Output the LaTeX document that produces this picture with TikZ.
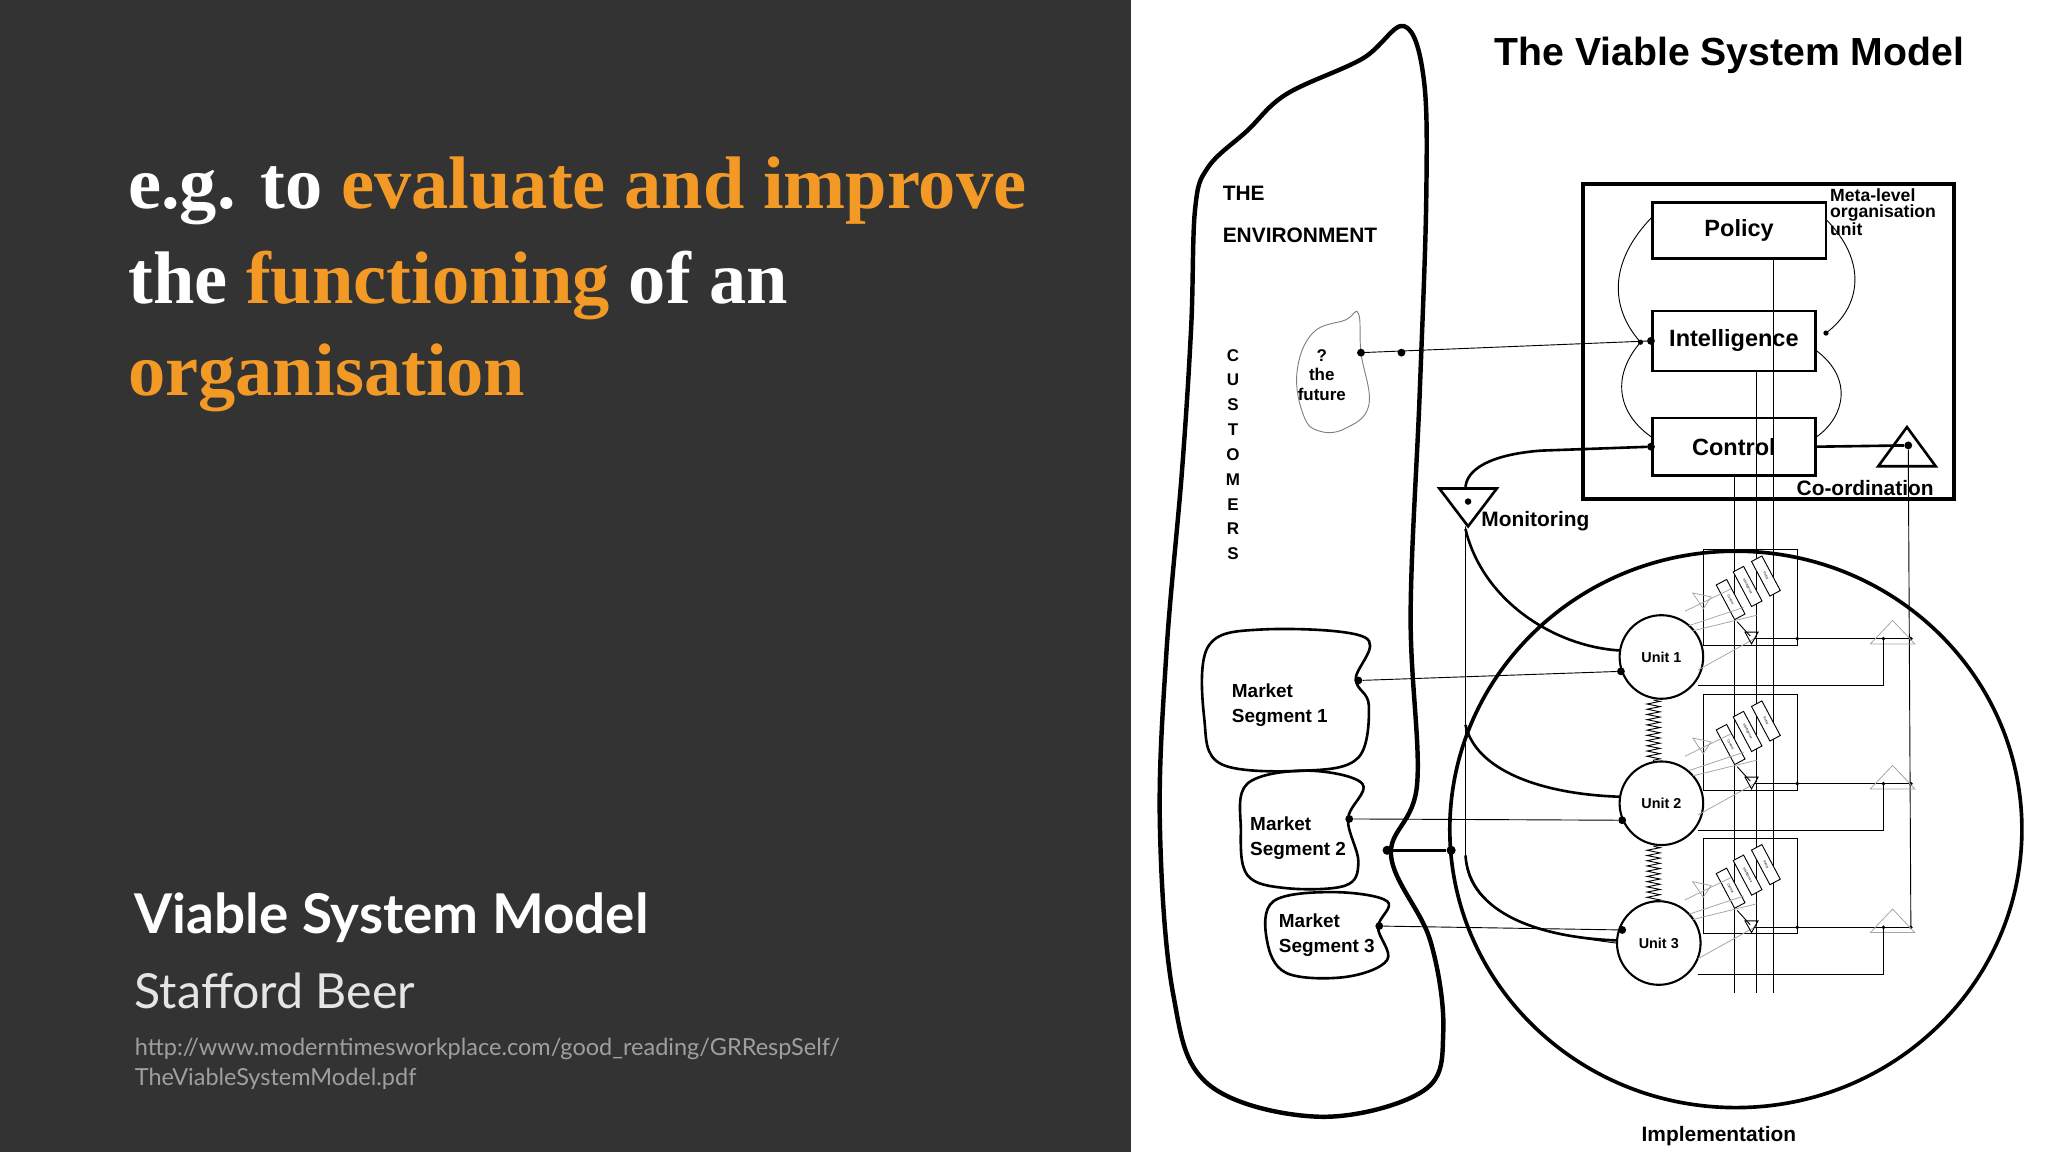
\documentclass[tikz,border=0pt]{standalone}
\usepackage{fontspec}
\setmainfont{Liberation Serif}
\newfontfamily\dsans{Liberation Sans}
\newfontfamily\lato{Lato}
\usetikzlibrary{decorations.pathmorphing}
\definecolor{panel}{HTML}{333333}
\definecolor{orng}{HTML}{F39A26}
\tikzset{
  thick1/.style={line width=3.4pt,line join=round},
  med/.style={line width=2pt},
  thin1/.style={line width=0.7pt},
  gry/.style={line width=0.6pt,gray!70},
  bx/.style={draw,line width=2pt,fill=white,font=\dsans\bfseries\fontsize{18}{20}\selectfont},
  unit/.style={draw,line width=1.6pt,circle,minimum size=64pt,inner sep=0,font=\dsans\bfseries\fontsize{11}{12}\selectfont},
  dot/.style={circle,fill=black,inner sep=0,minimum size=6pt},
  lbl/.style={font=\dsans\bfseries\fontsize{16}{18}\selectfont,inner sep=0},
  ms/.style={font=\dsans\bfseries\fontsize{14.5}{19}\selectfont,inner sep=0,align=left,anchor=west},
  mini/.style={draw,fill=white,line width=0.7pt,minimum width=30pt,minimum height=9pt,inner sep=0,font=\dsans\fontsize{2.5}{3}\selectfont},
}
\begin{document}
\begin{tikzpicture}[x=1pt,y=-1pt]
\useasboundingbox (0,0) rectangle (1568,882);
\fill[panel] (0,0) rectangle (866,882);
\fill[white] (866,0) rectangle (1568,882);
% left texts
\node[anchor=base west,inner sep=0,text=white,font=\bfseries\fontsize{57}{60}\selectfont] (t1) at (98,160) {e.g. to \textcolor{orng}{evaluate and improve}};
\node[anchor=base west,inner sep=0,text=white,font=\bfseries\fontsize{57}{60}\selectfont] (t2) at (98,232) {the \textcolor{orng}{functioning} of an};
\node[anchor=base west,inner sep=0,text=orng,font=\bfseries\fontsize{57}{60}\selectfont] (t3) at (98,303) {organisation};
\node[anchor=base west,inner sep=0,text=white,font=\lato\bfseries\fontsize{42}{46}\selectfont] (vsm) at (103,715) {Viable System Model};
\node[anchor=base west,inner sep=0,text=white!80!gray,font=\lato\fontsize{37}{40}\selectfont] (sb) at (103,772) {Stafford Beer};
\node[anchor=base west,inner sep=0,text=gray!75,font=\lato\fontsize{18}{23}\selectfont] (url) at (103,808) {http://www.moderntimesworkplace.com/good\_reading/GRRespSelf/};
\node[anchor=base west,inner sep=0,text=gray!75,font=\lato\fontsize{18}{23}\selectfont] (url2) at (103,831) {TheViableSystemModel.pdf};
% title
\node[anchor=base,inner sep=0,font=\dsans\bfseries\fontsize{30}{34}\selectfont] (title) at (1324,50) {The Viable System Model};
% environment blob
\draw[thick1] plot[smooth cycle,tension=0.6] coordinates {(1075,20) (1043,45) (985,72) (955,100) (925,128) (915,160) (912,250) (905,360) (893,500) (888,630) (898,760) (925,830) (1010,855) (1090,835) (1105,790) (1095,720) (1065,655) (1085,600) (1080,470) (1087,300) (1092,150) (1090,60)};
\node[lbl,anchor=west] (the) at (936,148) {THE};
\node[lbl,anchor=west] (env) at (936,180) {ENVIRONMENT};
\foreach \c [count=\i] in {C,U,S,T,O,M,E,R,S}
  \node[lbl,font=\dsans\bfseries\fontsize{13}{14}\selectfont] (cu\i) at (944,253+19*\i) {\c};
% the future
\draw[thin1,gray] plot[smooth cycle,tension=0.7] coordinates {(1005,255) (1030,245) (1040,240) (1042,270) (1048,310) (1030,328) (1010,330) (998,318) (993,285)};
\node[lbl,align=center,font=\dsans\bfseries\fontsize{13}{15}\selectfont] (fut) at (1012,287) {?\\the\\future};
% market segments
\draw[med] plot[smooth cycle,tension=0.6] coordinates {(925,495) (965,482) (1045,488) (1038,520) (1048,540) (1040,580) (1000,590) (935,585) (922,550)};
\node[ms] (ms1) at (943,540) {Market\\Segment 1};
\draw[med] plot[smooth cycle,tension=0.6] coordinates {(955,600) (1000,590) (1043,600) (1032,627) (1040,660) (1030,678) (985,680) (955,670) (950,635)};
\node[ms] (ms2) at (957,642) {Market\\Segment 2};
\draw[med] plot[smooth cycle,tension=0.6] coordinates {(975,690) (1020,683) (1062,690) (1055,710) (1062,735) (1030,748) (985,745) (970,720)};
\node[ms] (ms3) at (979,716) {Market\\Segment 3};
% meta box
\draw[line width=2.8pt] (1212,141) rectangle (1496,382);
\node[bx,minimum width=133pt,minimum height=43pt] (pol) at (1331.5,176.5) {Policy};
\node[bx,minimum width=125pt,minimum height=46pt] (int) at (1327.5,261) {Intelligence};
\node[bx,minimum width=125pt,minimum height=44pt] (con) at (1327.5,342) {Control};
\node[anchor=north west,inner sep=0,align=left,font=\dsans\bfseries\fontsize{13.5}{12.5}\selectfont] (meta) at (1401,144) {Meta-level\\organisation\\unit};
\node[anchor=base,inner sep=0,font=\dsans\bfseries\fontsize{16}{18}\selectfont] (coord) at (1428,379) {Co-ordination};
\node[lbl,anchor=west] (mon) at (1134,399) {Monitoring};
\node[lbl] (impl) at (1316,870) {Implementation};
% arcs
\draw[thin1] (1265,166) .. controls (1232,200) and (1232,235) .. (1256,262);
\draw[thin1] (1256,262) .. controls (1232,290) and (1240,318) .. (1265,335);
\draw[thin1] (1398,168) .. controls (1430,200) and (1425,235) .. (1398,255);
\draw[thin1] (1390,268) .. controls (1420,290) and (1412,320) .. (1390,335);
\fill (1256,262) circle (2pt) (1398,255) circle (2pt);
% verticals
\draw[thin1] (1358,198) -- (1358,760);
\draw[thin1] (1345,284) -- (1345,760);
\draw[thin1] (1328,364) -- (1328,760);
% coordination triangle
\draw[med] (1460,327) -- (1482,357) -- (1438,357) -- cycle;
\node[dot] (cd) at (1461,341) {};
\draw[med] (con.east) -- (cd);
\draw[thin1] (cd) -- (1463,710);
% monitoring
\draw[med] (1102,374) -- (1146,374) -- (1124,403) -- cycle;
\node[dot,minimum size=5pt] (md) at (1124,384) {};
\node[dot] (cld) at (con.west) {};
\draw[med] (cld) -- (1180,345) .. controls (1140,348) and (1122,360) .. (1122,374);
% implementation circle
\draw[line width=2.8pt] (1329,635) ellipse (219 and 213);
% units
\node[unit] (u1) at (1272,503) {Unit 1};
\node[unit] (u2) at (1272,615) {Unit 2};
\node[unit] (u3) at (1270,722) {Unit 3};
\draw[thin1] (1122,403) -- (1122,655) .. controls (1122,700) and (1180,715) .. (u3.west);
\draw[med] (1122,405) .. controls (1135,460) and (1190,495) .. (1240,498);
\draw[med] (1122,555) .. controls (1130,590) and (1180,608) .. (1240,610);
\draw[med] (1122,655) .. controls (1125,700) and (1180,718) .. (1238,720);
% springs
\draw[thin1,decorate,decoration={zigzag,amplitude=5pt,segment length=4pt}] (1266,536) -- (1266,583);
\draw[thin1,decorate,decoration={zigzag,amplitude=5pt,segment length=4pt}] (1266,648) -- (1266,690);
% connectors env
\node[dot] (fd) at (1042,270) {};
\node[dot] (ed) at (1073,270) {};
\node[dot] (id) at (int.west) {};
\draw[thin1] (fd) -- (id);
\node[dot] (m1) at (1040,521) {};
\node[dot] (m2) at (1033,627) {};
\node[dot] (m3) at (1056,709) {};
\node[dot] (u1d) at (1241,514) {};
\node[dot] (u2d) at (1242,628) {};
\node[dot] (u3d) at (1242,712) {};
\draw[thin1] (m1) -- (u1d); \draw[thin1] (m2) -- (u2d); \draw[thin1] (m3) -- (u3d);
\node[dot,minimum size=7pt] (j1) at (1062,651) {};
\node[dot,minimum size=7pt] (j2) at (1111,651) {};
\draw[med] (j1) -- (j2);
% unit management boxes
\foreach \y/\u in {421/u1,532/u2,642/u3}{
  \draw[thin1] (1304,\y) rectangle (1376,\y+73);
  \node[mini,rotate=-62] at (1352,\y+20) {Policy};
  \node[mini,rotate=-62] at (1338,\y+28) {Intelligence};
  \node[mini,rotate=-62] at (1325,\y+38) {Control};
  \draw[gry] (1290,\y+47) -- (1325,\y+30);
  \draw[gry] (1296,\y+33) -- (1304,\y+45) -- (1310,\y+36) -- cycle;
  \draw[gry] (1293,\y+58) -- (1335,\y+44);
  \draw[gry] (1296,\y+62) -- (1345,\y+50);
  \draw[gry] (1300,\y+92) -- (1345,\y+67);
  \draw[thin1] (1330,\y+55) -- (1340,\y+66);
  \draw[thin1] (1336,\y+63) -- (1346,\y+63) -- (1341,\y+72) -- cycle;
  \draw[thin1] (1343,\y+68) -- (1463,\y+68);
  \fill (1376,\y+68) circle (1.5pt) (1463,\y+68) circle (1.5pt) (1442,\y+68) circle (1.5pt);
  \draw[gry] (1449,\y+54) -- (1466,\y+72) -- (1432,\y+72) -- cycle;
  \draw[thin1] (1300,\y+104) -- (1442,\y+104) -- (1442,\y+68);
}
\end{tikzpicture}
\end{document}
